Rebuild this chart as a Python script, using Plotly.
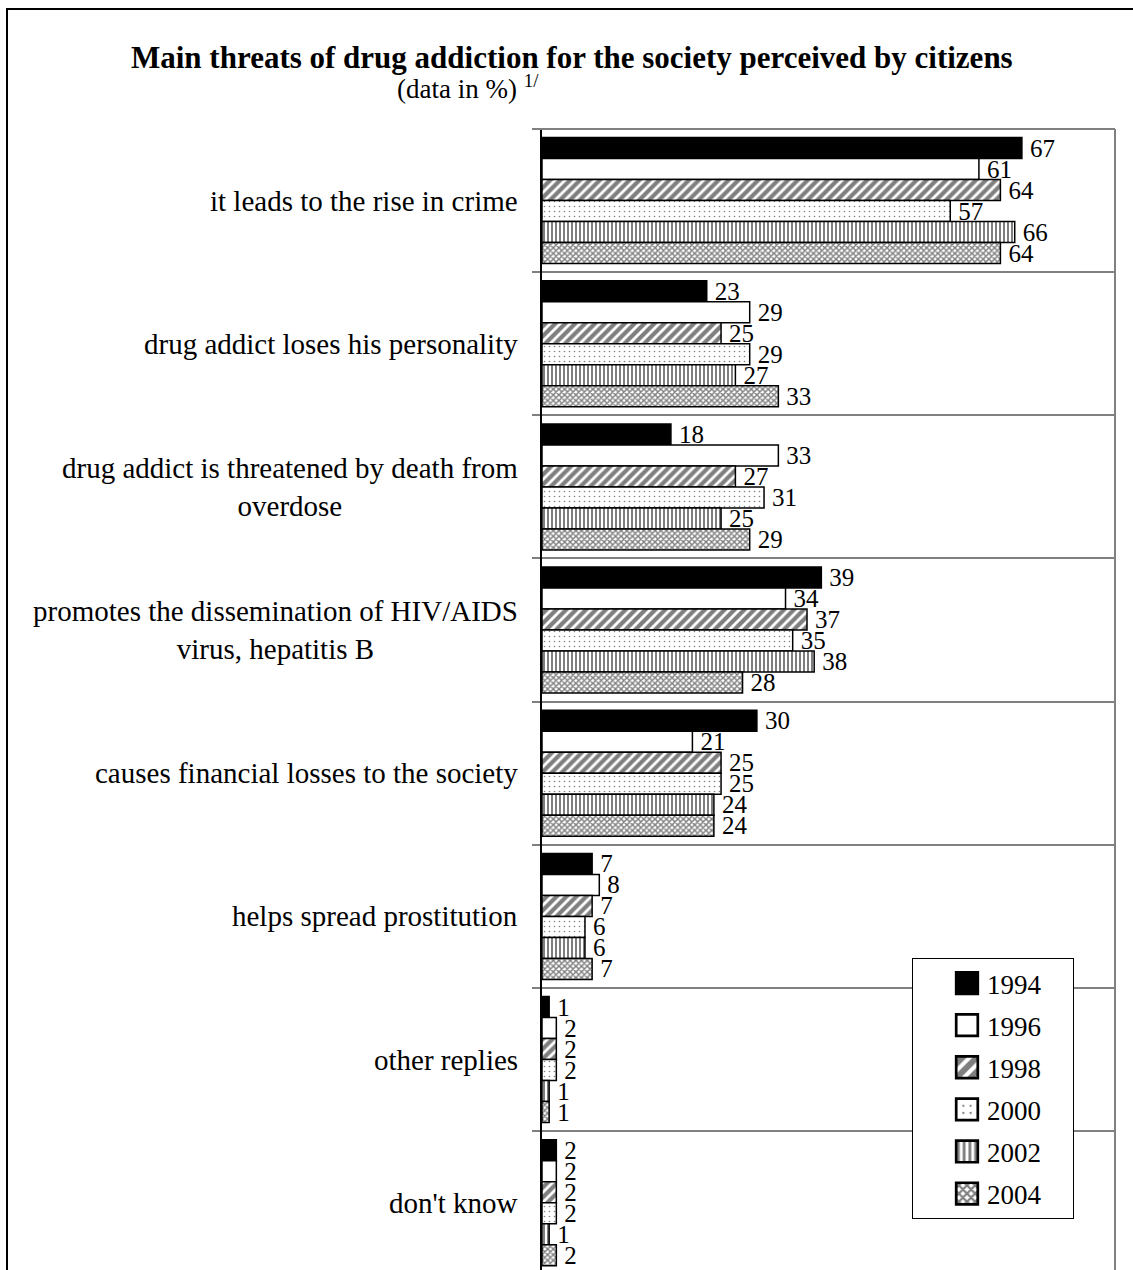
import plotly.graph_objects as go

categories = [
    "it leads to the rise in crime",
    "drug addict loses his personality",
    "drug addict is threatened by death from<br>overdose",
    "promotes the dissemination of HIV/AIDS<br>virus, hepatitis B",
    "causes financial losses to the society",
    "helps spread prostitution",
    "other replies",
    "don't know",
]
years = ["1994", "1996", "1998", "2000", "2002", "2004"]
v1994 = [67, 23, 18, 39, 30, 7, 1, 2]
v1996 = [61, 29, 33, 34, 21, 8, 2, 2]
v1998 = [64, 25, 27, 37, 25, 7, 2, 2]
v2000 = [57, 29, 31, 35, 25, 6, 2, 2]
v2002 = [66, 27, 25, 38, 24, 6, 1, 1]
v2004 = [64, 33, 29, 28, 24, 7, 1, 2]
series = [v1994, v1996, v1998, v2000, v2002, v2004]

FONT = "Liberation Serif, Times New Roman, serif"

styles = [
    dict(color="black", pattern=dict(shape="")),
    dict(color="white", pattern=dict(shape="")),
    dict(color="white", pattern=dict(shape="/", fgcolor="black", bgcolor="white", size=7, solidity=0.6)),
    dict(color="white", pattern=dict(shape=".", fgcolor="black", bgcolor="white", size=5, solidity=0.08)),
    dict(color="white", pattern=dict(shape="|", fgcolor="black", bgcolor="white", size=4, solidity=0.5)),
    dict(color="white", pattern=dict(shape="x", fgcolor="black", bgcolor="white", size=4, solidity=0.6)),
]

fig = go.Figure()
for yr, vals, st in zip(years, series, styles):
    fig.add_trace(go.Bar(
        y=categories, x=vals, name=yr + "\u00a0\u00a0\u00a0\u00a0", orientation="h",
        marker=dict(color=st["color"], pattern=st["pattern"],
                    line=dict(color="black", width=1.5)),
        text=["\u2009" + str(v) for v in vals], textposition="outside",
        textfont=dict(family=FONT, size=25, color="black"),
        constraintext="none", cliponaxis=False,
        legendgroup=yr,
    ))

W, H = 1133, 1270
L, R, T, B = 542, 1115, 129, 1270
pw, ph = R - L, B - T

def px(x):
    return (x - L) / pw

def py(y):
    return (B - y) / ph

annotations = []
for c in categories:
    annotations.append(dict(
        x=0, xref="paper", y=c, yref="y", text=c, showarrow=False,
        xanchor="right", yanchor="middle", xshift=-22, align="center",
        font=dict(family=FONT, size=29, color="black"),
    ))
annotations.append(dict(
    x=px(572), y=py(57), xref="paper", yref="paper",
    text="<b>Main threats of drug addiction for the society perceived by citizens</b>",
    showarrow=False, xanchor="center", yanchor="middle",
    font=dict(family=FONT, size=31, color="black"),
))
annotations.append(dict(
    x=px(468), y=py(87), xref="paper", yref="paper",
    text="(data in %) <sup>1/</sup>",
    showarrow=False, xanchor="center", yanchor="middle",
    font=dict(family=FONT, size=27, color="black"),
))

shapes = [
    dict(type="rect", xref="paper", yref="paper",
         x0=px(7), x1=px(1150), y0=py(1285), y1=py(9),
         line=dict(color="black", width=2), layer="below"),
    dict(type="line", xref="paper", yref="paper", x0=1, x1=1, y0=0, y1=1,
         line=dict(color="#808080", width=2)),
    dict(type="line", xref="paper", yref="paper", x0=px(535), x1=1, y0=1, y1=1,
         line=dict(color="#808080", width=2)),
]

fig.update_layout(
    width=W, height=H,
    margin=dict(l=L, r=W - R, t=T, b=H - B, pad=0),
    paper_bgcolor="white", plot_bgcolor="white",
    barmode="group", bargap=0.12, bargroupgap=0,
    font=dict(family=FONT, color="black"),
    showlegend=True,
    legend=dict(
        x=px(912), y=py(958), xanchor="left", yanchor="top",
        bgcolor="white", bordercolor="black", borderwidth=1,
        font=dict(family=FONT, size=27, color="black"),
        traceorder="grouped", tracegroupgap=4, indentation=34,
    ),
    xaxis=dict(range=[0, 80], visible=False, fixedrange=True),
    yaxis=dict(
        categoryorder="array", categoryarray=categories,
        range=[7.47, -0.5], tickson="boundaries",
        showticklabels=False, ticks="outside", ticklen=8,
        tickcolor="#808080", tickwidth=2,
        showgrid=True, gridcolor="#808080", gridwidth=2,
        showline=True, linecolor="black", linewidth=2,
        zeroline=False,
    ),
    annotations=annotations, shapes=shapes,
)

post = """
function bigIcons(){
  document.querySelectorAll('.legendpoints path').forEach(function(p){
    if(!p.dataset.big){
      var t = p.getAttribute('transform') || '';
      p.setAttribute('transform', t + ' scale(1.8)');
      p.dataset.big = '1';
    }
  });
}
bigIcons();
var gd = document.querySelector('.plotly-graph-div');
if (gd && gd.on) { gd.on('plotly_afterplot', bigIcons); }
"""

fig.write_html("out.html", post_script=post)
